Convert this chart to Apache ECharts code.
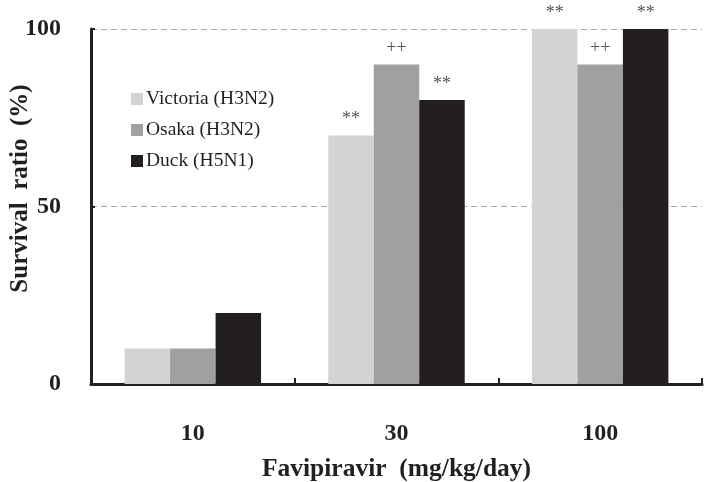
<!DOCTYPE html>
<html>
<head>
<meta charset="utf-8">
<script src="https://cdn.jsdelivr.net/npm/echarts@6/dist/echarts.min.js"></script>
<style>html,body{margin:0;padding:0;background:#fff;}#c{width:705px;height:482px;}</style>
</head>
<body>
<div id="c"></div>
<script>
var categories = ['10', '30', '100'];
var seriesNames = ['Victoria (H3N2)', 'Osaka (H3N2)', 'Duck (H5N1)'];
var victoria = [10, 70, 100];
var osaka = [10, 90, 90];
var duck = [20, 80, 100];
var victoriaMarks = ['', '**', '**'];
var osakaMarks = ['', '++', '++'];
var duckMarks = ['', '**', '**'];
var yTicks = [0, 50, 100];
var colors = ['#d3d3d3', '#a0a0a0', '#231f20'];

var FONT = '"Liberation Serif", "Times New Roman", serif';
var AX = '#231f20';

function mkSeries(name, data, marks, color) {
  return {
    name: name,
    type: 'bar',
    data: data,
    barGap: '0%',
    barCategoryGap: '33%',
    itemStyle: { color: color },
    label: {
      show: true,
      position: 'top',
      distance: 7,
      fontFamily: FONT,
      fontSize: 18,
      color: '#555',
      formatter: function (p) { return marks[p.dataIndex]; }
    }
  };
}

var chart = echarts.init(document.getElementById('c'));
chart.setOption({
  animation: false,
  backgroundColor: '#fff',
  grid: { left: 91, right: 3, top: 29, bottom: 98, containLabel: false, outerBoundsMode: 'none' },
  legend: {
    orient: 'vertical',
    left: 131,
    top: 89,
    padding: 0,
    itemWidth: 12,
    itemHeight: 12,
    itemGap: 11,
    icon: 'rect',
    textStyle: { fontFamily: FONT, fontSize: 19.5, color: '#231f20', lineHeight: 20, padding: [0, 0, 0, -2] },
    data: seriesNames
  },
  xAxis: {
    type: 'category',
    data: categories,
    name: 'Favipiravir  (mg/kg/day)',
    nameLocation: 'middle',
    nameGap: 72,
    nameMoveOverlap: false,
    nameTextStyle: { fontFamily: FONT, fontSize: 25.5, fontWeight: 'bold', color: AX },
    axisLine: { lineStyle: { color: AX, width: 3 } },
    axisTick: { show: true, inside: true, length: 6, lineStyle: { color: AX, width: 2 } },
    axisLabel: { margin: 38, fontFamily: FONT, fontSize: 24, fontWeight: 'bold', color: AX }
  },
  yAxis: {
    type: 'value',
    min: yTicks[0],
    max: yTicks[yTicks.length - 1],
    interval: yTicks[1] - yTicks[0],
    name: 'Survival  ratio  (%)',
    nameLocation: 'middle',
    nameGap: 58,
    nameMoveOverlap: false,
    nameTextStyle: { fontFamily: FONT, fontSize: 25, fontWeight: 'bold', color: AX, padding: [0, 0, 0, 36] },
    axisLine: { show: true, lineStyle: { color: AX, width: 3 } },
    axisTick: { show: true, inside: true, length: 4, lineStyle: { color: AX, width: 2 } },
    axisLabel: { margin: 30, fontFamily: FONT, fontSize: 24, fontWeight: 'bold', color: AX },
    splitLine: { show: true, lineStyle: { color: '#a8a8a8', width: 1, type: [6, 4] } }
  },
  series: [
    mkSeries(seriesNames[0], victoria, victoriaMarks, colors[0]),
    mkSeries(seriesNames[1], osaka, osakaMarks, colors[1]),
    mkSeries(seriesNames[2], duck, duckMarks, colors[2])
  ]
});
</script>
</body>
</html>
